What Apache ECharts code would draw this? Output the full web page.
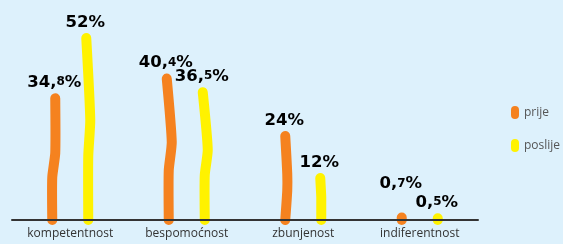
<!DOCTYPE html>
<html>
<head>
<meta charset="utf-8">
<script src="https://cdn.jsdelivr.net/npm/echarts@6/dist/echarts.min.js"></script>
<style>
  html, body { margin: 0; padding: 0; background: #ddf1fc; }
  #chart { width: 563px; height: 244px; }
</style>
</head>
<body>
<div id="chart"></div>
<script>
const categories = ["kompetentnost", "bespomoćnost", "zbunjenost", "indiferentnost"];
const prije = [34.8, 40.4, 24, 0.7];
const poslije = [52, 36.5, 12, 0.5];

// hand drawn look: sideways drift (px) at 0, 35%, 55%, 100% of each stroke
const wobble = {
  prije: [[0, 0, 3, 3], [0, 0, 3, -2], [0, 2, 2, 0], [0, 0, 0, 0]],
  poslije: [[0, 0, 2, -2], [0, 0, 3, -2], [0, 0, 0, -1], [0, 0, 0, 0]]
};
const steps = [0, 0.35, 0.55, 1];
// extra lift of the value labels (px)
const lift = { prije: [0, 0, 0, 18], poslije: [0, 0, 0, 0] };

function fmt(v) {
  const s = String(v).split(".");
  if (s.length === 1) return "{a|" + s[0] + "%}";
  return "{a|" + s[0] + ",}{b|" + s[1] + "}{a|%}";
}

function stroke(offset, drift, up) {
  return function (params, api) {
    const idx = api.value(0);
    const v = api.value(1);
    const base = api.coord([idx, 0]);
    const top = api.coord([idx, v]);
    const x = base[0] + offset;
    const pts = steps.map(function (t, i) {
      return [x + drift[idx][i], base[1] + (top[1] - base[1]) * t];
    });
    return {
      type: "group",
      children: [
        {
          type: "polyline",
          shape: { points: pts, smooth: 0.2 },
          style: { stroke: api.visual("color"), lineWidth: 10, lineCap: "round", lineJoin: "round", fill: null }
        },
        {
          type: "text",
          x: pts[pts.length - 1][0] - 1,
          y: top[1] - 7 - up[idx],
          style: {
            text: fmt(v),
            align: "center",
            verticalAlign: "bottom",
            rich: {
              a: { fontFamily: "DejaVu Sans", fontWeight: "bold", fontSize: 16.5, color: "#231f20", lineHeight: 20, verticalAlign: "bottom" },
              b: { fontFamily: "DejaVu Sans", fontWeight: "bold", fontSize: 12, color: "#231f20", lineHeight: 16, verticalAlign: "bottom", padding: [0, 0, 3, 0] }
            }
          }
        }
      ]
    };
  };
}

const chart = echarts.init(document.getElementById("chart"));
chart.setOption({
  animation: false,
  backgroundColor: "#ddf1fc",
  grid: { left: 12, width: 466, top: 10, bottom: 24 },
  legend: {
    orient: "vertical",
    left: 506,
    top: 101,
    itemGap: 20,
    itemWidth: 8,
    itemHeight: 13,
    icon: "path://M0,4A4,4 0 0 1 8,4L8,9A4,4 0 0 1 0,9Z",
    textStyle: { color: "#555", fontFamily: "Open Sans", fontSize: 12 },
    data: ["prije", "poslije"]
  },
  xAxis: {
    type: "category",
    data: categories,
    z: 5,
    axisLine: { lineStyle: { color: "#333", width: 2 } },
    axisTick: { show: false },
    axisLabel: { color: "#333", fontFamily: "Open Sans", fontSize: 12, margin: 8 }
  },
  yAxis: {
    type: "value",
    min: 0,
    max: 60,
    show: false
  },
  series: [
    {
      name: "prije",
      type: "custom",
      itemStyle: { color: "#f5821f" },
      data: prije.map(function (v, i) { return [i, v]; }),
      renderItem: stroke(-18, wobble.prije, lift.prije)
    },
    {
      name: "poslije",
      type: "custom",
      itemStyle: { color: "#fff200" },
      data: poslije.map(function (v, i) { return [i, v]; }),
      renderItem: stroke(18, wobble.poslije, lift.poslije)
    }
  ]
});
</script>
</body>
</html>
